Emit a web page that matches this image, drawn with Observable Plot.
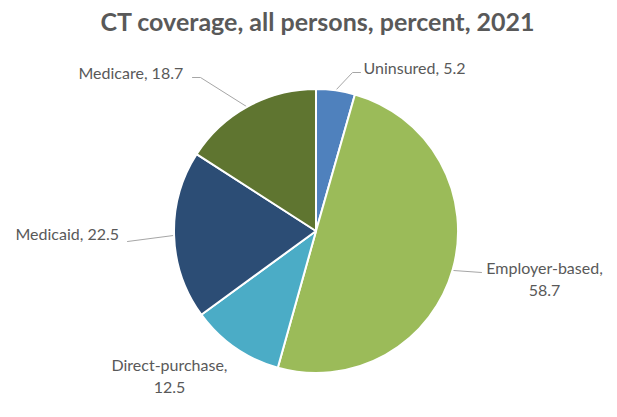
<!DOCTYPE html>
<html>
<head>
<meta charset="utf-8">
<script src="https://cdn.jsdelivr.net/npm/d3@7"></script>
<script src="https://cdn.jsdelivr.net/npm/@observablehq/plot@0.6"></script>
<style>
  html, body { margin: 0; padding: 0; background: #fff; }
</style>
</head>
<body>
<div id="chart"></div>
<script>
// ---- data ----
const categories = ["Uninsured", "Employer-based", "Direct-purchase", "Medicaid", "Medicare"];
const values = [5.2, 58.7, 12.5, 22.5, 18.7];
const colors = ["#4f81bd", "#9bbb59", "#4bacc6", "#2c4d75", "#5f7530"];
const titleText = "CT coverage, all persons, percent, 2021";

// ---- layout (pixel space) ----
const W = 617, H = 417;
const cx = 316, cy = 231, R = 142;
// label anchor points & leader lines (layout, not data)
const labelLayout = [
  {lines: ["Uninsured, 5.2"], x: 363, y: 68, anchor: "start", leader: [[335, 90], [352, 72], [360, 72]]},
  {lines: ["Employer-based,", "58.7"], x: 544, y: 268, anchor: "middle", leader: [[453, 270], [481, 272]]},
  {lines: ["Direct-purchase,", "12.5"], x: 169, y: 365, anchor: "middle", leader: null},
  {lines: ["Medicaid, 22.5"], x: 15, y: 234, anchor: "start", leader: [[173, 235], [127, 241]]},
  {lines: ["Medicare, 18.7"], x: 78, y: 73, anchor: "start", leader: [[246, 106], [200, 77], [192, 77]]}
];

const rows = categories.map((c, i) => ({category: c, value: values[i], color: colors[i]}));
const arcs = d3.pie().sort(null).value(d => d.value)(rows);

const labelRows = [];
labelLayout.forEach((L) => {
  L.lines.forEach((t, j) => {
    labelRows.push({text: t, x: L.x, y: L.y + j * 22, anchor: L.anchor});
  });
});
const leaderRows = [];
labelLayout.forEach((L, i) => {
  if (L.leader) L.leader.forEach(p => leaderRows.push({k: i, x: p[0], y: p[1]}));
});

function pieMark(index, scales) {
  const g = d3.create("svg:g");
  const x0 = scales.x(cx), y0 = scales.y(cy);
  const r = scales.x(cx + R) - x0;
  const arcGen = d3.arc().innerRadius(0).outerRadius(r);
  g.selectAll("path")
    .data(arcs)
    .join("path")
    .attr("transform", `translate(${x0},${y0})`)
    .attr("d", arcGen)
    .attr("fill", d => d.data.color)
    .attr("stroke", "#fff")
    .attr("stroke-width", 2)
    .attr("stroke-linejoin", "round");
  return g.node();
}

const chart = Plot.plot({
  width: W,
  height: H,
  margin: 0,
  x: {domain: [0, W], range: [0, W], axis: null},
  y: {domain: [0, H], range: [0, H], axis: null},
  style: {fontFamily: "Lato, 'Open Sans', sans-serif", background: "#fff"},
  marks: [
    Plot.line(leaderRows, {x: "x", y: "y", z: "k", stroke: "#a6a6a6", strokeWidth: 1}),
    pieMark,
    Plot.text(labelRows.filter(d => d.anchor === "start"), {x: "x", y: "y", text: "text", textAnchor: "start", fontSize: 16, fill: "#595959"}),
    Plot.text(labelRows.filter(d => d.anchor === "middle"), {x: "x", y: "y", text: "text", textAnchor: "middle", fontSize: 16, fill: "#595959"}),
    Plot.text([titleText], {x: 317, y: 22, text: d => d, fontSize: 25, fontWeight: "bold", fill: "#595959"})
  ]
});
document.getElementById("chart").appendChild(chart);
</script>
</body>
</html>
